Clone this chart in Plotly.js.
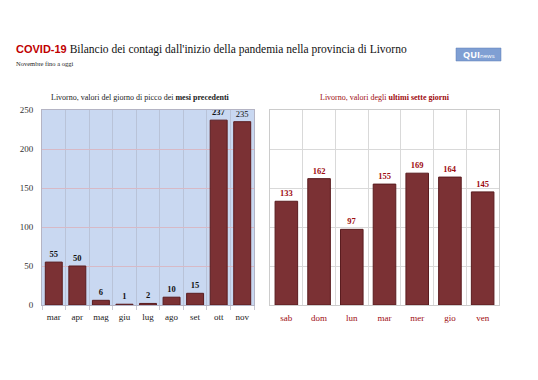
<!DOCTYPE html>
<html>
<head>
<meta charset="utf-8">
<script src="https://cdn.plot.ly/plotly-3.0.1.min.js"></script>
<style>html,body{margin:0;padding:0;background:#fff;}#chart{width:538px;height:380px;}</style>
</head>
<body>
<div id="chart"></div>
<script>
// Data
const monthLabels = ["mar","apr","mag","giu","lug","ago","set","ott","nov"];
const monthPeaks = [55, 50, 6, 1, 2, 10, 15, 237, 235];
const dayLabels = ["sab","dom","lun","mar","mer","gio","ven"];
const dayValues = [133, 162, 97, 155, 169, 164, 145];
const yTicks = [0, 50, 100, 150, 200, 250];

const serif = "Liberation Serif, DejaVu Serif, serif";
const barColor = "#7b3134";
const barLine = "#5a1c1f";
const darkRed = "#9e0b0f";

const monthTemplates = monthPeaks.map((v, i) => i === monthPeaks.length - 1 ? "%{y}" : "<b>%{y}</b>");

const traces = [
  {
    type: "bar", x: monthLabels, y: monthPeaks, xaxis: "x", yaxis: "y",
    marker: {color: barColor, line: {color: barLine, width: 1}},
    width: 0.72,
    texttemplate: monthTemplates, textposition: "outside", cliponaxis: false,
    textfont: {family: serif, size: 8.5, color: "#111"},
    hoverinfo: "skip"
  },
  {
    type: "bar", x: dayLabels, y: dayValues, xaxis: "x2", yaxis: "y2",
    marker: {color: barColor, line: {color: barLine, width: 1}},
    width: 0.69,
    texttemplate: "<b>%{y}</b>", textposition: "outside", cliponaxis: false,
    textfont: {family: serif, size: 8.5, color: darkRed},
    hoverinfo: "skip"
  }
];

const yTop = 1 - 110/380, yBot = 1 - 305/380;

const layout = {
  width: 538, height: 380,
  margin: {l: 0, r: 0, t: 0, b: 0},
  paper_bgcolor: "#ffffff",
  plot_bgcolor: "#ffffff",
  showlegend: false,
  xaxis: {
    domain: [42/538, 254/538], type: "category", anchor: "y",
    range: [-0.5, monthLabels.length - 0.5],
    tickson: "boundaries", ticks: "outside", ticklen: 4, tickcolor: "#c9c9d4",
    tickangle: 0, ticklabelstandoff: 3,
    showgrid: true, gridcolor: "#b9c3d8", gridwidth: 1,
    showline: true, linecolor: "#b4b4c4", mirror: true,
    tickfont: {family: serif, size: 9, color: "#222"},
    fixedrange: true
  },
  yaxis: {
    domain: [yBot, yTop], anchor: "x",
    range: [0, 250], tickvals: yTicks,
    showgrid: true, gridcolor: "#d7b9c6", gridwidth: 1,
    zeroline: false,
    showline: true, linecolor: "#b4b4c4", mirror: true,
    ticks: "", tickfont: {family: serif, size: 9, color: "#333"},
    ticklabelstandoff: 6,
    fixedrange: true
  },
  xaxis2: {
    domain: [270/538, 499/538], type: "category", anchor: "y2",
    range: [-0.5, dayLabels.length - 0.5],
    tickson: "boundaries", ticks: "", tickangle: 0, ticklabelstandoff: 4,
    showgrid: true, gridcolor: "#d9d9d9", gridwidth: 1,
    showline: true, linecolor: "#cccccc", mirror: true,
    tickfont: {family: serif, size: 9, color: darkRed},
    fixedrange: true
  },
  yaxis2: {
    domain: [yBot, yTop], anchor: "x2",
    range: [0, 250], tickvals: yTicks,
    showgrid: true, gridcolor: "#d9d9d9", gridwidth: 1,
    zeroline: false, showticklabels: false,
    showline: true, linecolor: "#cccccc", mirror: true,
    fixedrange: true
  },
  shapes: [
    {type: "rect", xref: "x domain", yref: "y domain", x0: 0, x1: 1, y0: 0, y1: 1,
     fillcolor: "#c9d8f1", line: {width: 0}, layer: "below"},
    {type: "rect", xref: "paper", yref: "paper", x0: 456/538, x1: 501/538, y0: 1-61/380, y1: 1-48/380,
     fillcolor: "#7f9fd3", line: {color: "#5f7fb5", width: 0.5}}
  ],
  annotations: [
    {xref: "paper", yref: "paper", x: 14/538, y: 1 - 50/380, xanchor: "left", yanchor: "middle",
     showarrow: false,
     text: "<span style='font-family:Liberation Sans, Arial, sans-serif;color:#c00000;font-weight:bold;font-size:11px'>COVID-19</span> Bilancio dei contagi dall'inizio della pandemia nella provincia di Livorno",
     font: {family: serif, size: 11.5, color: "#111"}},
    {xref: "paper", yref: "paper", x: 14/538, y: 1 - 64/380, xanchor: "left", yanchor: "middle",
     showarrow: false, text: "Novembre fino a oggi",
     font: {family: serif, size: 6.5, color: "#222"}},
    {xref: "paper", yref: "paper", x: 478.5/538, y: 1 - 54.5/380, xanchor: "center", yanchor: "middle",
     showarrow: false, text: "<b>QUI</b><span style='font-size:6px'>news</span>",
     font: {family: "Open Sans, Liberation Sans, sans-serif", size: 9, color: "#ffffff"}},
    {xref: "paper", yref: "paper", x: 140/538, y: 1 - 97/380, xanchor: "center", yanchor: "middle",
     showarrow: false, text: "Livorno, valori del giorno di picco dei <b>mesi precedenti</b>",
     font: {family: serif, size: 8, color: "#222"}},
    {xref: "paper", yref: "paper", x: 385/538, y: 1 - 97/380, xanchor: "center", yanchor: "middle",
     showarrow: false, text: "Livorno, valori degli <b>ultimi sette giorni</b>",
     font: {family: serif, size: 8, color: darkRed}}
  ]
};

Plotly.newPlot("chart", traces, layout, {displayModeBar: false, staticPlot: true});
</script>
</body>
</html>
